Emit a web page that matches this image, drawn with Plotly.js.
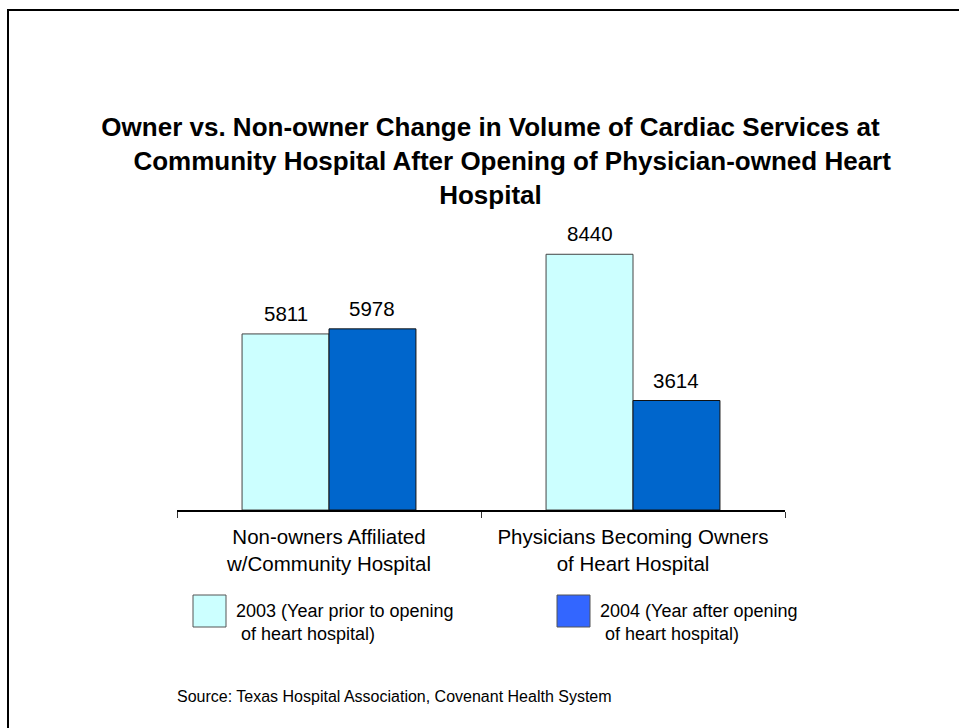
<!DOCTYPE html>
<html>
<head>
<meta charset="utf-8">
<script src="https://cdn.plot.ly/plotly-3.0.1.min.js"></script>
<style>html,body{margin:0;padding:0;background:#fff;}#chart{width:959px;height:728px;}</style>
</head>
<body>
<div id="chart"></div>
<script>
// ---- data ----
const categories = ['Non-owners Affiliated<br>w/Community Hospital', 'Physicians Becoming Owners<br>of Heart Hospital'];
const seriesNames = ['2003 (Year prior to opening<br>\u00A0of heart hospital)', '2004 (Year after opening<br>\u00A0of heart hospital)'];
const values2003 = [5811, 8440];
const values2004 = [5978, 3614];
const titleLines = ['Owner vs. Non-owner Change in Volume of Cardiac Services at',
                    '\u00A0\u00A0\u00A0\u00A0\u00A0\u00A0Community Hospital After Opening of Physician-owned Heart',
                    'Hospital'];
const sourceText = 'Source: Texas Hospital Association, Covenant Health System';

// ---- layout geometry ----
const W = 959, H = 728;
const M = {l: 177, r: 174, t: 207, b: 218};
const PW = W - M.l - M.r, PH = H - M.t - M.b;
const px2x = px => (px - M.l) / PW;
const py2y = py => (H - M.b - py) / PH;
const FONT = 'Liberation Sans, Arial, sans-serif';
const barColors = ['#CCFFFF', '#0066CC'];
const swatchColors = ['#CCFFFF', '#3366FF'];
const bargap = 0.428;

const traces = [
  {type: 'bar', x: categories, y: values2003, name: seriesNames[0],
   marker: {color: barColors[0], line: {color: '#444', width: 1}}, hoverinfo: 'skip'},
  {type: 'bar', x: categories, y: values2004, name: seriesNames[1],
   marker: {color: barColors[1], line: {color: '#111', width: 1}}, hoverinfo: 'skip'}
];

const annotations = [];
const barOffsetPx = (PW / categories.length) * (1 - bargap) / 4;
[values2003, values2004].forEach((vals, s) => {
  vals.forEach((v, i) => {
    annotations.push({x: categories[i], y: v, xref: 'x', yref: 'y', text: String(v),
      showarrow: false, xanchor: 'center', yanchor: 'bottom',
      xshift: (s === 0 ? -1 : 1) * barOffsetPx, yshift: 7,
      font: {family: FONT, size: 20.5, color: '#000'}});
  });
});

// legend (manual, to match swatch size/colour)
const legendX = [[193, 226, 234], [557, 590, 598]];
const shapes = [
  // slide frame
  {type: 'rect', xref: 'paper', yref: 'paper', x0: px2x(8), x1: px2x(W + 20), y0: py2y(H + 20), y1: py2y(10),
   line: {color: '#000', width: 2}, fillcolor: 'rgba(0,0,0,0)', layer: 'below'}
];
seriesNames.forEach((nm, s) => {
  shapes.push({type: 'rect', xref: 'paper', yref: 'paper',
    x0: px2x(legendX[s][0]), x1: px2x(legendX[s][1]), y0: py2y(627), y1: py2y(595),
    fillcolor: swatchColors[s], line: {color: '#555', width: 1}});
  annotations.push({xref: 'paper', yref: 'paper', x: px2x(legendX[s][2]), y: py2y(599),
    text: nm, showarrow: false, xanchor: 'left', yanchor: 'top', align: 'left',
    font: {family: FONT, size: 18, color: '#000'}});
});
annotations.push({xref: 'paper', yref: 'paper', x: px2x(175), y: py2y(686), text: sourceText,
  showarrow: false, xanchor: 'left', yanchor: 'top', font: {family: FONT, size: 16, color: '#000'}});

const layout = {
  width: W, height: H, margin: M,
  paper_bgcolor: '#fff', plot_bgcolor: '#fff',
  showlegend: false, barmode: 'group', bargap: bargap, bargroupgap: 0,
  title: {text: titleLines.join('<br>'), xref: 'container', yref: 'container',
    x: 490.5 / W, xanchor: 'center', y: 1 - 136 / H, yanchor: 'top',
    font: {family: FONT, size: 26, color: '#000', weight: 'bold'}},
  xaxis: {type: 'category', showline: true, linecolor: '#000', linewidth: 1.5,
    ticks: 'outside', ticklen: 6, tickcolor: '#333', tickwidth: 1, tickson: 'boundaries',
    ticklabelstandoff: 8,
    showgrid: false, zeroline: false, fixedrange: true,
    tickfont: {family: FONT, size: 20.5, color: '#000'}},
  yaxis: {range: [0, 10000], visible: false, fixedrange: true},
  shapes: shapes, annotations: annotations
};

Plotly.newPlot('chart', traces, layout, {displayModeBar: false, staticPlot: true});
</script>
</body>
</html>
